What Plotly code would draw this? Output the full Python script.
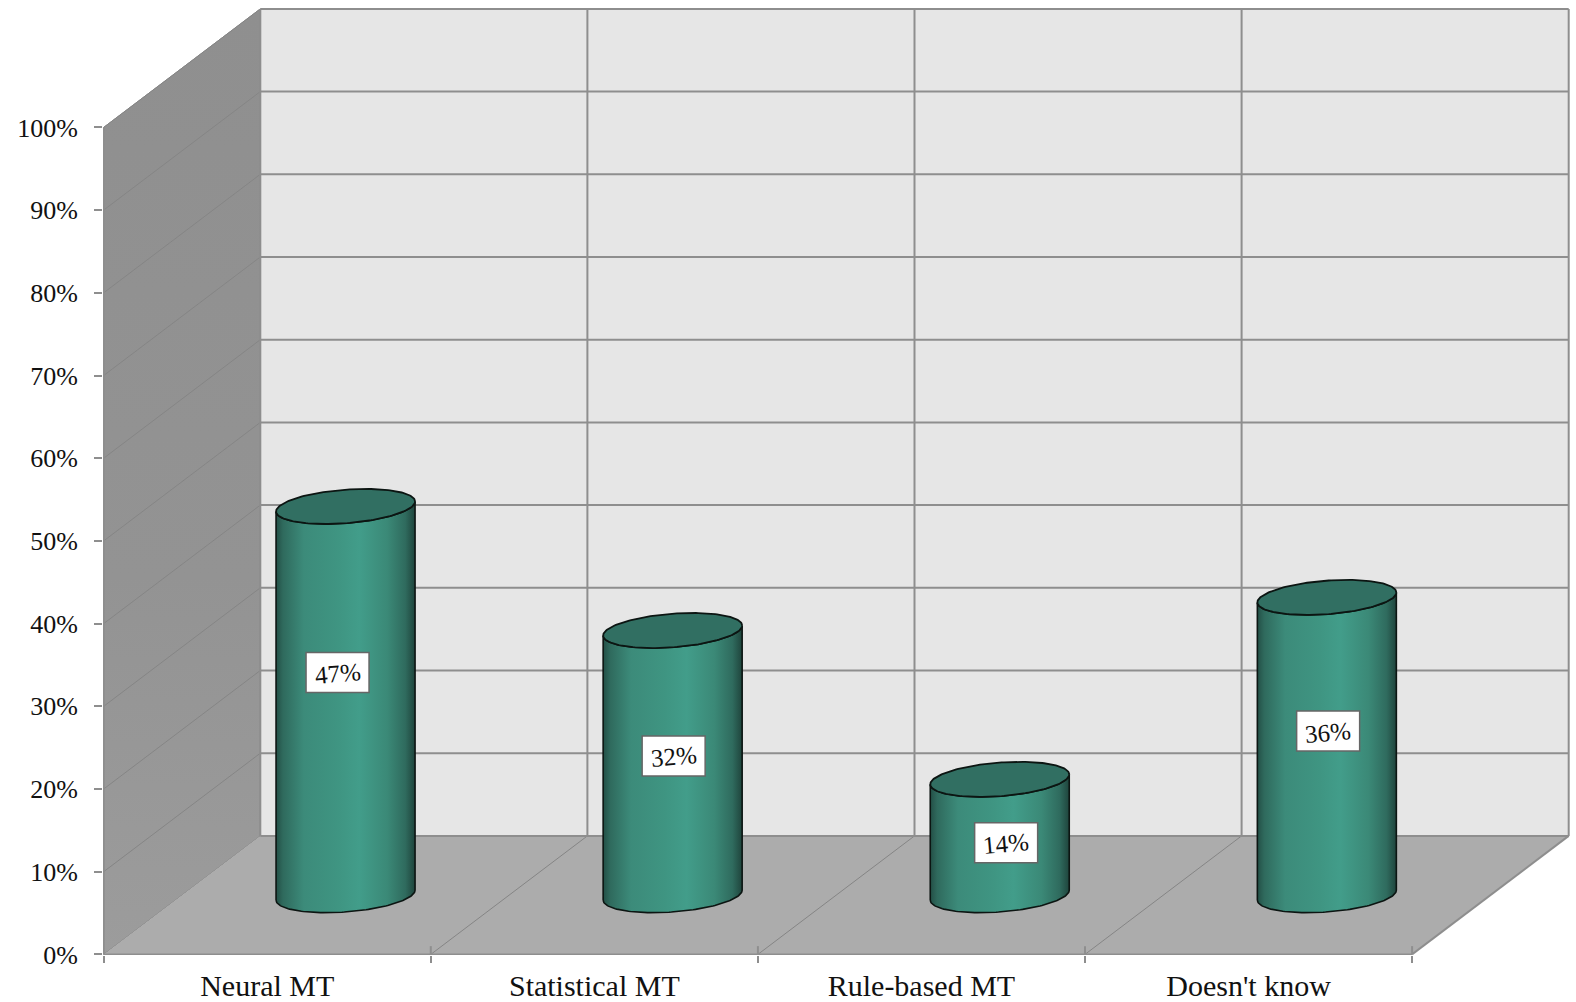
import numpy as np
import plotly.graph_objects as go

# Survey results
CATEGORIES = ["Neural MT", "Statistical MT", "Rule-based MT", "Doesn't know"]
VALUES = [47, 32, 14, 36]
VALUE_LABELS = ["47%", "32%", "14%", "36%"]
Y_TICKS = [0, 10, 20, 30, 40, 50, 60, 70, 80, 90, 100]
Y_TICK_LABELS = ["0%", "10%", "20%", "30%", "40%", "50%", "60%", "70%", "80%", "90%", "100%"]

# Hand-placed label anchors (value units) and sideways nudges (pixels)
LABEL_LEVELS = [34.1, 24.0, 13.5, 27.0]
LABEL_NUDGES = [-8, 1, 6.4, 1.3]

# Canvas and oblique projection, in axis units
WIDTH, HEIGHT = 1576, 1002
M_LEFT, M_BOTTOM = 103, 47
ORIGIN_DX, ORIGIN_DY = 0.7, 0.6   # sub-pixel offset of the chart origin inside the plot area
PX_PER_CAT = 327.1
PX_PER_PCT = 8.27
DEPTH_X = 156.6 / PX_PER_CAT
DEPTH_Y = 118.5 / PX_PER_PCT

# Cylinder geometry, in axis units
RADIUS_X = 69.5 / PX_PER_CAT
TILT_Y = 5.0 / PX_PER_PCT
MINOR_Y = 16.8 / PX_PER_PCT

GRID = "#8e8e8e"
GRID_SIDE = "#858585"
TEXT = "#111111"
FONT = "Liberation Serif"

BODY_SCALE = [
    [0.0, "#234f46"], [0.05, "#2f6a5d"], [0.2, "#3c8b7a"], [0.45, "#3f9582"],
    [0.6, "#429d8a"], [0.8, "#3b8977"], [0.93, "#2f6b5e"], [1.0, "#1f443c"],
]


def polygon(xs, ys, **kw):
    return go.Scatter(x=xs, y=ys, mode="lines", fill="toself", hoverinfo="skip",
                      showlegend=False, cliponaxis=False, **kw)


def lines(segments, color, width):
    xs, ys = [], []
    for (x0, y0), (x1, y1) in segments:
        xs += [x0, x1, None]
        ys += [y0, y1, None]
    return go.Scatter(x=xs, y=ys, mode="lines", line=dict(color=color, width=width),
                      hoverinfo="skip", showlegend=False, cliponaxis=False)


fig = go.Figure()
n = len(CATEGORIES)

# Side wall, back wall and floor
fig.add_trace(polygon([0, DEPTH_X, DEPTH_X, 0, 0],
                      [0, DEPTH_Y, 100 + DEPTH_Y, 100, 0],
                      line=dict(color=GRID_SIDE, width=1),
                      fillgradient=dict(type="vertical",
                                        colorscale=[[0, "#9c9c9c"], [0.4, "#939393"], [1, "#8f8f8f"]])))
fig.add_trace(polygon([DEPTH_X, n + DEPTH_X, n + DEPTH_X, DEPTH_X, DEPTH_X],
                      [DEPTH_Y, DEPTH_Y, 100 + DEPTH_Y, 100 + DEPTH_Y, DEPTH_Y],
                      line=dict(color=GRID, width=0), fillcolor="#e6e6e6"))
fig.add_trace(polygon([0, n, n + DEPTH_X, DEPTH_X, 0],
                      [0, 0, DEPTH_Y, DEPTH_Y, 0],
                      line=dict(width=0), fillcolor="#acacac"))

# Grid on each wall
fig.add_trace(lines([((0, v), (DEPTH_X, v + DEPTH_Y)) for v in Y_TICKS[1:]], GRID_SIDE, 1))
fig.add_trace(lines([((i, 0), (i + DEPTH_X, DEPTH_Y)) for i in range(1, n)], GRID_SIDE, 1))
fig.add_trace(lines([((DEPTH_X, v + DEPTH_Y), (n + DEPTH_X, v + DEPTH_Y)) for v in Y_TICKS], GRID, 2))
fig.add_trace(lines([((i + DEPTH_X, DEPTH_Y), (i + DEPTH_X, 100 + DEPTH_Y)) for i in range(n + 1)], GRID, 2))

# Axis edges, plus the stub each category tick leaves above the baseline
fig.add_trace(lines([((0, 0), (0, 100)), ((0, 0), (n, 0)), ((n, 0), (n + DEPTH_X, DEPTH_Y))], GRID, 2))
fig.add_trace(lines([((i, 0), (i, 1)) for i in range(1, n + 1)], GRID, 2))

# Cylinders
t_front = np.linspace(np.pi, 2 * np.pi, 90)
t_all = np.linspace(0, 2 * np.pi, 180)


def rim(cx, cy, t):
    return cx + RADIUS_X * np.cos(t), cy + TILT_Y * np.cos(t) + MINOR_Y * np.sin(t)


for i, value in enumerate(VALUES):
    cx = i + 0.5 + DEPTH_X / 2
    base = DEPTH_Y / 2
    top = base + value
    bx, by = rim(cx, base, t_front)
    tx, ty = rim(cx, top, t_front)
    fig.add_trace(polygon(np.r_[bx, tx[::-1], bx[0]], np.r_[by, ty[::-1], by[0]],
                          line=dict(color="#0c1512", width=1.6),
                          fillgradient=dict(type="horizontal", colorscale=BODY_SCALE)))
    ex, ey = rim(cx, top, t_all)
    fig.add_trace(polygon(ex, ey, line=dict(color="#0c1512", width=1.8), fillcolor="#316f62"))

# Value labels: upright white box with slightly tilted text
shapes, annotations = [], []
for i, (text, level, nudge) in enumerate(zip(VALUE_LABELS, LABEL_LEVELS, LABEL_NUDGES)):
    ax = i + 0.5 + DEPTH_X / 2 + nudge / PX_PER_CAT
    shapes.append(dict(type="rect", xref="x", yref="y", layer="above",
                       xsizemode="pixel", ysizemode="pixel",
                       xanchor=ax, yanchor=level, x0=-31.5, x1=31.5, y0=-20, y1=20,
                       fillcolor="white", line=dict(color="#666666", width=1.5)))
    annotations.append(dict(x=ax, y=level, xref="x", yref="y", text=text, showarrow=False,
                            yshift=-1, textangle=-5, font=dict(family=FONT, size=25, color=TEXT)))

fig.update_layout(
    width=WIDTH, height=HEIGHT,
    margin=dict(l=M_LEFT, r=0, t=0, b=M_BOTTOM, pad=0),
    paper_bgcolor="white", plot_bgcolor="white",
    showlegend=False, shapes=shapes, annotations=annotations,
    xaxis=dict(range=[-ORIGIN_DX / PX_PER_CAT, (WIDTH - M_LEFT - ORIGIN_DX) / PX_PER_CAT],
               showgrid=False, zeroline=False, showline=False,
               tickmode="array", tickvals=[i + 0.5 for i in range(n)], ticktext=CATEGORIES,
               ticks="", tickangle=0, ticklabelstandoff=10,
               tickfont=dict(family=FONT, size=30, color=TEXT),
               minor=dict(tickmode="array", tickvals=list(range(n + 1)), ticks="outside",
                          ticklen=7, tickwidth=2, tickcolor=GRID, showgrid=False)),
    yaxis=dict(range=[-ORIGIN_DY / PX_PER_PCT, (HEIGHT - M_BOTTOM - ORIGIN_DY) / PX_PER_PCT],
               showgrid=False, zeroline=False, showline=False,
               tickmode="array", tickvals=Y_TICKS, ticktext=Y_TICK_LABELS,
               ticks="outside", ticklen=8, tickwidth=2, tickcolor=GRID, ticklabelstandoff=11,
               tickfont=dict(family=FONT, size=26, color=TEXT)),
)

fig.write_html("out.html", config=dict(displayModeBar=False))
